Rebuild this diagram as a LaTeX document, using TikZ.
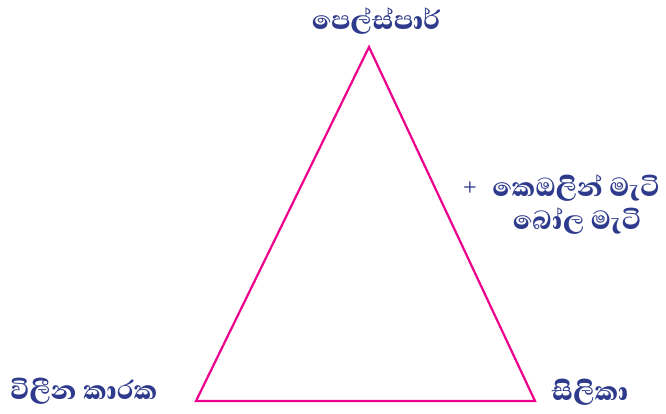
\documentclass[tikz,border=0pt]{standalone}
\usepackage{fontspec}
\newfontfamily\sinfont[Script=Sinhala,BoldFont={Abhaya Libre ExtraBold}]{Abhaya Libre}
\definecolor{lbl}{HTML}{2E3A8C}
\definecolor{tri}{HTML}{EC008C}
\begin{document}
\begin{tikzpicture}[x=1pt,y=-1pt,
  lab/.style={text=lbl,font=\sinfont\bfseries\fontsize{33.5}{38}\selectfont,inner sep=0pt,align=center},
  edge/.style={draw=tri,line width=2.2pt,line join=miter}]
\useasboundingbox (0,0) rectangle (666,413);
\coordinate (A) at (369,47);
\coordinate (B) at (196,401);
\coordinate (C) at (535,401);
\draw[edge] (A) -- (B) -- (C) -- cycle;
\node[lab] (top) at (376,21) {පෙල්ස්පාර්};
\node[lab] (r1) at (576,188) {කෙඔලින් මැටි};
\node[text=lbl,font=\sffamily\bfseries\fontsize{16}{18}\selectfont,inner sep=0pt] (plus) at (470,187) {+};
\node[lab] (r2) at (577,221) {බෝල මැටි};
\node[lab] (bl) at (84,391) {විලීන කාරක};
\node[lab] (br) at (590,392) {සිලිකා};
\end{tikzpicture}
\end{document}
